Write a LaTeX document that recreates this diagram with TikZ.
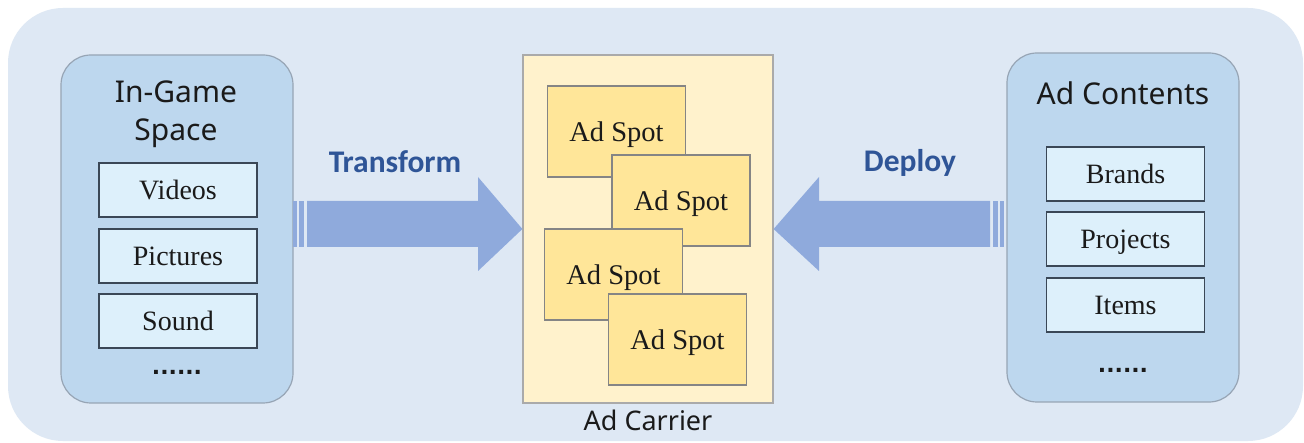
\documentclass[tikz,border=0pt]{standalone}
\usepackage{fontspec}
\setmainfont{Liberation Serif}
\newfontfamily\titlefont{Noto Sans}
\newfontfamily\labfont{Carlito}
\newfontfamily\dotfont{DejaVu Sans}
\definecolor{bgblue}{HTML}{DEE8F4}
\definecolor{panelblue}{HTML}{BDD7EE}
\definecolor{panelborder}{HTML}{97A5B5}
\definecolor{itemfill}{HTML}{DDF0FB}
\definecolor{itemborder}{HTML}{3A4756}
\definecolor{arrowblue}{HTML}{8FAADC}
\definecolor{labblue}{HTML}{2F5597}
\definecolor{carrierfill}{HTML}{FFF2CC}
\definecolor{carrierborder}{HTML}{AAAAAA}
\definecolor{spotfill}{HTML}{FFE699}
\definecolor{spotborder}{HTML}{858585}
\definecolor{txt}{HTML}{1A1A1A}
\tikzset{
  panel/.style={draw=panelborder, fill=panelblue, line width=1.2pt, rounded corners=30pt},
  itembox/.style={draw=itemborder, fill=itemfill, line width=1.3pt, minimum width=158pt, minimum height=54pt, inner sep=0pt, text depth=0pt, font=\fontsize{28}{30}\selectfont, text=txt},
  spotbox/.style={draw=spotborder, fill=spotfill, line width=1.2pt, minimum width=138pt, minimum height=91pt, inner sep=0pt, text depth=0pt, font=\fontsize{28.5}{30}\selectfont, text=txt},
  titletext/.style={font=\titlefont\fontsize{30}{38}\selectfont, text=txt, align=center},
  dotstext/.style={font=\dotfont\bfseries\fontsize{22}{22}\selectfont, text=txt},
  arrowlabel/.style={font=\labfont\bfseries\fontsize{31.5}{34}\selectfont, text=labblue},
  blockarrow/.style={fill=arrowblue, draw=none}
}
\begin{document}
\begin{tikzpicture}[x=1pt,y=-1pt]
\useasboundingbox (0,0) rectangle (1304,443);
\fill[white] (0,0) rectangle (1304,443);
% background
\fill[bgblue, rounded corners=55pt] (8,8) rectangle (1303,441);
% left panel
\draw[panel] (61,55) rectangle (293,403);
\node[titletext] (lefttitle) at (176,114) {In-Game\\Space};
\node[itembox] (videos) at (178,190) {Videos};
\node[itembox] (pictures) at (178,256) {Pictures};
\node[itembox] (sound) at (178,321) {Sound};
\node[dotstext] (ldots) at (177,372) {......};
% right panel
\draw[panel] (1007,53) rectangle (1239,402);
\node[titletext] (righttitle) at (1123,93) {Ad Contents};
\node[itembox] (brands) at (1125.5,174) {Brands};
\node[itembox] (projects) at (1125.5,239) {Projects};
\node[itembox] (items) at (1125.5,305) {Items};
\node[dotstext] (rdots) at (1123,370) {......};
% carrier
\node[draw=carrierborder, fill=carrierfill, line width=1.2pt, minimum width=250pt, minimum height=348pt, inner sep=0pt] (carrier) at (648,229) {};
\node[font=\titlefont\fontsize{27}{30}\selectfont, text=txt] (carrierlabel) at (648,420) {Ad Carrier};
\node[spotbox] (spot1) at (616.5,131.5) {Ad Spot};
\node[spotbox] (spot2) at (681,200.5) {Ad Spot};
\node[spotbox] (spot3) at (613.5,274.5) {Ad Spot};
\node[spotbox] (spot4) at (677.5,339.5) {Ad Spot};
% transform arrow
\fill[blockarrow] (293,201) rectangle (297,247);
\fill[blockarrow] (299,201) rectangle (304,247);
\fill[blockarrow] (307,201) -- (478,201) -- (478,177) -- (carrier.west) -- (478,271) -- (478,247) -- (307,247) -- cycle;
\node[arrowlabel] (translabel) at (395,162) {Transform};
% deploy arrow
\fill[blockarrow] (1000,201) rectangle (1004,247);
\fill[blockarrow] (993,201) rectangle (998,247);
\fill[blockarrow] (990,201) -- (819,201) -- (819,177) -- (carrier.east) -- (819,271) -- (819,247) -- (990,247) -- cycle;
\node[arrowlabel] (deploylabel) at (910,163) {Deploy};
\end{tikzpicture}
\end{document}
